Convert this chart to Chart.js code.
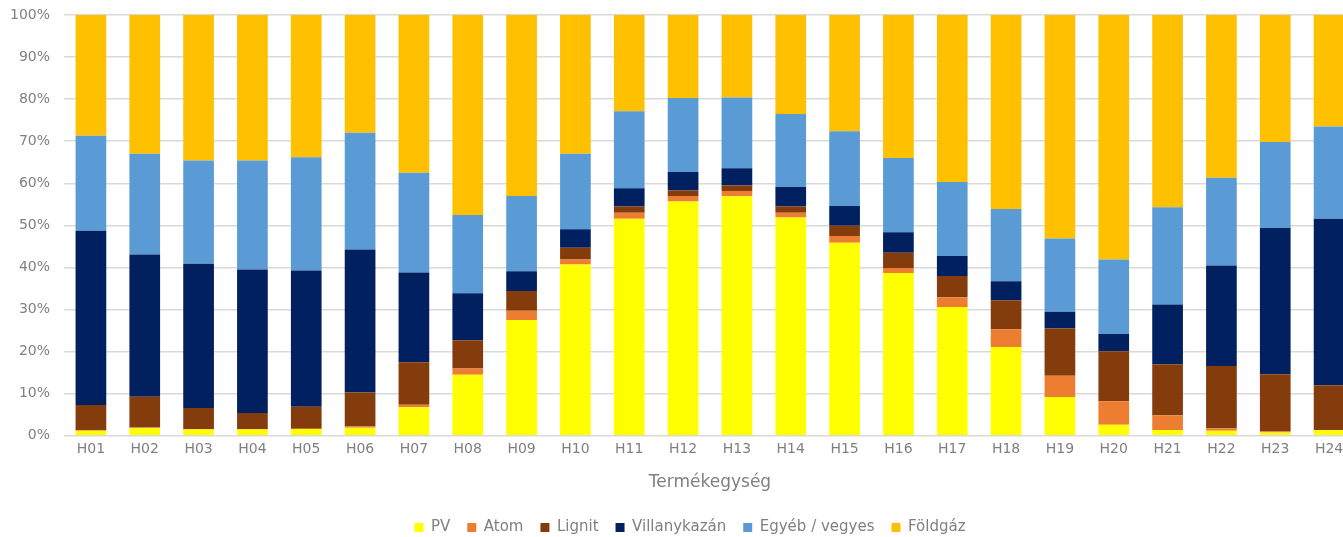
<!DOCTYPE html>
<html>
<head>
<meta charset="utf-8">
<script src="https://cdn.jsdelivr.net/npm/chart.js@4/dist/chart.umd.min.js"></script>
<style>
  html, body { margin: 0; padding: 0; background: #fff; overflow: hidden; }
  #wrap { width: 1343px; height: 537px; overflow: hidden; }
</style>
</head>
<body>
<div id="wrap"><canvas id="myChart" width="1356" height="547"></canvas></div>
<script>
// categories (hours)
var hours = ["H01","H02","H03","H04","H05","H06","H07","H08","H09","H10","H11","H12",
             "H13","H14","H15","H16","H17","H18","H19","H20","H21","H22","H23","H24"];

// shares in %
var pv       = [1.2, 1.8, 1.5, 1.5, 1.6, 1.9, 6.8, 14.5, 27.5, 40.7, 51.6, 55.7, 56.9, 51.9, 45.9, 38.7, 30.6, 21.1, 9.2, 2.6, 1.4, 1.2, 0.8, 1.3];
var atom     = [0.2, 0.2, 0.1, 0.1, 0.1, 0.3, 0.6, 1.5, 2.2, 1.2, 1.4, 1.3, 1.3, 1.1, 1.6, 1.2, 2.3, 4.2, 5.1, 5.6, 3.5, 0.6, 0.2, 0.1];
var lignit   = [5.9, 7.3, 5.0, 3.8, 5.2, 8.1, 10.1, 6.7, 4.7, 2.8, 1.5, 1.3, 1.3, 1.5, 2.4, 3.6, 5.1, 6.9, 11.2, 11.9, 12.1, 14.8, 13.6, 10.6];
var villany  = [41.4, 33.8, 34.3, 34.1, 32.4, 34.0, 21.3, 11.2, 4.7, 4.4, 4.3, 4.4, 4.1, 4.6, 4.7, 4.9, 4.7, 4.5, 4.0, 4.1, 14.2, 23.9, 34.8, 39.6];
var egyeb    = [22.6, 23.9, 24.5, 25.9, 26.9, 27.7, 23.7, 18.6, 17.9, 17.9, 18.3, 17.6, 16.8, 17.4, 17.8, 17.6, 17.6, 17.2, 17.4, 17.7, 23.1, 20.8, 20.4, 21.9];
var foldgaz  = [28.7, 33.0, 34.6, 34.6, 33.8, 28.0, 37.5, 47.5, 43.0, 33.0, 22.9, 19.7, 19.6, 23.5, 27.6, 34.0, 39.7, 46.1, 53.1, 58.1, 45.7, 38.7, 30.2, 26.5];

var yTicks = [0, 10, 20, 30, 40, 50, 60, 70, 80, 90, 100];

var fontFam = "'DejaVu Sans', sans-serif";
var gray = "#808080";

function ds(label, data, color) {
  return {
    label: label,
    data: data,
    backgroundColor: color,
    borderWidth: 0,
    barPercentage: 0.57,
    categoryPercentage: 1.0
  };
}

// nudge the legend a bit to the right, like in the original
var legendShift = {
  id: "legendShift",
  afterLayout: function (chart) {
    chart.legend.left += 12;
    chart.legend.right += 12;
  }
};

var ctx = document.getElementById("myChart");
var chart = new Chart(ctx, {
  type: "bar",
  data: {
    labels: hours,
    datasets: [
      ds("PV", pv, "#ffff00"),
      ds("Atom", atom, "#ed7d31"),
      ds("Lignit", lignit, "#843c0c"),
      ds("Villanykazán", villany, "#002060"),
      ds("Egyéb / vegyes", egyeb, "#5b9bd5"),
      ds("Földgáz", foldgaz, "#ffc000")
    ]
  },
  plugins: [legendShift],
  options: {
    responsive: false,
    animation: false,
    layout: { padding: { top: 15, right: 0, bottom: 2, left: 0 } },
    plugins: {
      tooltip: { enabled: false },
      legend: {
        position: "bottom",
        labels: {
          color: gray,
          font: { family: fontFam, size: 15 },
          boxWidth: 9,
          boxHeight: 9,
          padding: 17
        }
      }
    },
    scales: {
      x: {
        stacked: true,
        grid: { display: false, drawTicks: false },
        border: { display: false },
        ticks: { color: gray, font: { family: fontFam, size: 14 }, padding: 5 },
        title: {
          display: true,
          text: "Termékegység",
          color: gray,
          font: { family: fontFam, size: 17 },
          padding: { top: 10, bottom: 10 }
        }
      },
      y: {
        stacked: true,
        min: 0,
        max: 100,
        afterBuildTicks: function (axis) {
          axis.ticks = yTicks.map(function (v) { return { value: v }; });
        },
        afterFit: function (axis) {
          axis.width = 64;
          axis.paddingTop = 0;
          axis.paddingBottom = 0;
        },
        grid: { color: "#d9d9d9", lineWidth: 1.5, drawTicks: false },
        border: { display: false },
        ticks: {
          color: gray,
          font: { family: fontFam, size: 14 },
          padding: 14,
          callback: function (v) { return v + "%"; }
        }
      }
    }
  }
});
</script>
</body>
</html>
